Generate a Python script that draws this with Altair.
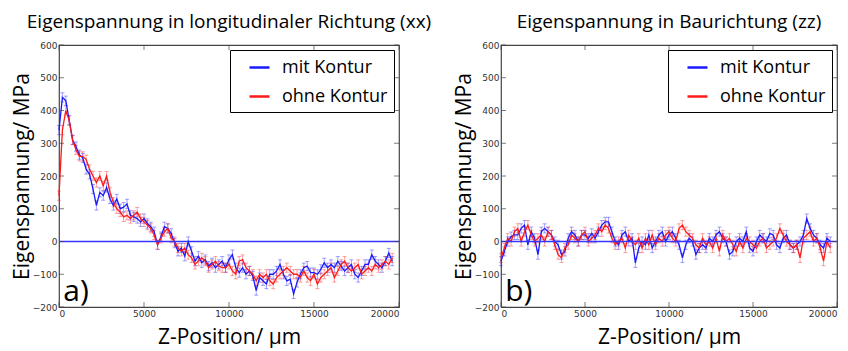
import altair as alt
import pandas as pd

X_POS = list(range(0, 19601, 200))

BLUE_XX = [340, 440, 430, 370, 310, 290, 265, 255, 220, 205,
           160, 110, 150, 140, 165, 130, 110, 130, 100, 105,
           115, 80, 75, 70, 60, 70, 55, 45, 30, -10,
           15, 45, 40, 25, -5, -30, -20, -45, 0, -30,
           -60, -45, -65, -55, -75, -65, -80, -70, -60, -80,
           -55, -40, -80, -95, -80, -100, -90, -105, -150, -110,
           -120, -130, -100, -100, -90, -70, -100, -120, -115, -160,
           -125, -100, -80, -75, -95, -95, -100, -85, -65, -80,
           -70, -80, -60, -75, -90, -80, -70, -100, -110, -90,
           -70, -70, -40, -60, -70, -80, -60, -35, -60]

RED_XX = [140, 340, 400, 370, 310, 280, 260, 260, 250, 220,
          200, 180, 200, 170, 200, 150, 120, 100, 90, 75,
          80, 70, 80, 90, 70, 60, 50, 40, 20, -10,
          10, 30, 40, 10, 0, -20, -30, -20, -40, -50,
          -70, -60, -50, -60, -80, -70, -60, -75, -80, -80,
          -70, -90, -100, -60, -55, -80, -90, -100, -120, -100,
          -110, -100, -120, -130, -110, -100, -90, -80, -90, -100,
          -100, -110, -90, -110, -120, -100, -130, -110, -100, -90,
          -80, -110, -90, -70, -60, -80, -90, -80, -70, -100,
          -90, -80, -90, -70, -80, -70, -60, -70, -50]

BLUE_ZZ = [-60, -30, 0, 15, 20, 20, 40, 50, -10, 30,
           10, -40, 30, 40, 30, 20, 0, -10, -40, -30,
           10, 30, 20, 0, 20, 20, 10, 25, 10, 30,
           50, 60, 60, 30, 0, -10, 20, 30, 0, 10,
           -65, -20, 0, -10, 20, -20, 0, 20, 30, 0,
           20, 30, 10, -10, -50, -10, 10, 0, -40, -20,
           -10, -20, 10, 0, 20, 30, 10, 0, -40, -30,
           0, 10, 0, 30, -20, -30, 0, 20, 10, 0,
           25, 20, -10, -20, 10, 20, -10, -20, -10, 0,
           20, 70, 40, 20, 10, -10, -20, 10, 0]

RED_ZZ = [-50, -20, 10, 0, 30, 40, 0, 30, 50, 20,
          0, 10, 20, 0, 30, 20, -10, -40, -50, -20,
          -10, 20, 10, 0, 20, 30, 0, 10, 20, 40,
          30, 50, 40, 10, -10, 0, 10, -20, 20, 0,
          -10, 10, -20, 10, -10, 20, -10, 10, 0, 20,
          30, 10, 0, 40, 50, 30, 20, 10, -10, -20,
          10, -10, 0, -20, 10, -30, 20, 0, 10, -10,
          -30, 0, -20, 10, 0, -10, -20, 0, 10, -20,
          -10, 0, 10, 40, 20, 0, -10, -20, -10, -50,
          10, 20, 30, 0, 10, -20, -60, 0, -20]

ERR = 14
SERIES = ["mit Kontur", "ohne Kontur"]
COLORS = ["#1a1aff", "#ff1a1a"]
TITLES = ["Eigenspannung in longitudinaler Richtung (xx)", "Eigenspannung in Baurichtung (zz)"]
TAGS = ["a)", "b)"]
X_TICKS = [0, 5000, 10000, 15000, 20000]
Y_TICKS = [-200, -100, 0, 100, 200, 300, 400, 500, 600]
X_MIN, X_MAX = 0, 20000
Y_MIN, Y_MAX = -200, 600

FONT = "Open Sans"


def make_df(blue, red):
    rows = []
    for name, vals in ((SERIES[0], blue), (SERIES[1], red)):
        for x, v in zip(X_POS, vals):
            rows.append({"x": x, "y": v, "lo": v - ERR, "hi": v + ERR, "s": name})
    return pd.DataFrame(rows)


X_SCALE = alt.Scale(domain=[X_MIN, X_MAX], nice=False, zero=False)
Y_SCALE = alt.Scale(domain=[Y_MIN, Y_MAX], nice=False)
Y_AXIS = alt.Axis(values=Y_TICKS, title="Eigenspannung/ MPa", format="d", grid=False)


def make_panel(df, title, tag, width, flush):
    if flush:
        x_axis = alt.Axis(values=X_TICKS, title="Z-Position/ µm", format="d", grid=False,
                          labelFlush=True, labelFlushOffset=0)
    else:
        x_axis = alt.Axis(values=X_TICKS, title="Z-Position/ µm", format="d", grid=False)

    def X(field):
        return alt.X(field, scale=X_SCALE, axis=x_axis)

    def Y(field):
        return alt.Y(field, scale=Y_SCALE, axis=Y_AXIS)

    color = alt.Color("s:N", scale=alt.Scale(domain=SERIES, range=COLORS),
                      legend=alt.Legend(title=None, orient="top-right", offset=5,
                                        strokeColor="black", fillColor="white",
                                        padding=6, symbolOffset=12,
                                        labelExpr="datum.label + '  '",
                                        labelFontSize=18, labelFont=FONT,
                                        symbolType="stroke", symbolSize=400,
                                        symbolStrokeWidth=2.5, symbolOpacity=1,
                                        labelOffset=11, rowPadding=8,
                                        labelColor="black"))
    base = alt.Chart(df)
    err = base.mark_rule(opacity=0.4, strokeWidth=1).encode(
        x=X("x:Q"), y=Y("lo:Q"), y2="hi:Q", color=color)
    cap_lo = base.mark_tick(orient="horizontal", size=4, thickness=1, opacity=0.4).encode(
        x=X("x:Q"), y=Y("lo:Q"), color=color)
    cap_hi = base.mark_tick(orient="horizontal", size=4, thickness=1, opacity=0.4).encode(
        x=X("x:Q"), y=Y("hi:Q"), color=color)
    line = base.mark_line(strokeWidth=1.3).encode(x=X("x:Q"), y=Y("y:Q"), color=color)
    zero = alt.Chart(pd.DataFrame({"z": [0]})).mark_rule(color="#3535ff", strokeWidth=1.4).encode(
        y=Y("z:Q"))
    lab = alt.Chart(pd.DataFrame({"x": [250], "y": [-153], "t": [tag]})).mark_text(
        align="left", baseline="middle", fontSize=30, font=FONT, color="black").encode(
        x=X("x:Q"), y=Y("y:Q"), text="t:N")

    xt = pd.DataFrame({"v": X_TICKS, "lo": [Y_MIN] * len(X_TICKS), "hi": [Y_MAX] * len(X_TICKS)})
    yt = pd.DataFrame({"v": Y_TICKS, "lo": [X_MIN] * len(Y_TICKS), "hi": [X_MAX] * len(Y_TICKS)})
    kw = dict(color="#444", thickness=1, size=5)
    ticks = [
        alt.Chart(xt).mark_tick(orient="vertical", yOffset=-2.5, **kw).encode(x=X("v:Q"), y=Y("lo:Q")),
        alt.Chart(xt).mark_tick(orient="vertical", yOffset=2.5, **kw).encode(x=X("v:Q"), y=Y("hi:Q")),
        alt.Chart(yt).mark_tick(orient="horizontal", xOffset=2.5, **kw).encode(x=X("lo:Q"), y=Y("v:Q")),
        alt.Chart(yt).mark_tick(orient="horizontal", xOffset=-2.5, **kw).encode(x=X("hi:Q"), y=Y("v:Q")),
    ]
    return alt.layer(err, cap_lo, cap_hi, line, zero, lab, *ticks).properties(
        width=width, height=262,
        title=alt.TitleParams(title, fontSize=19, font=FONT, fontWeight="normal",
                              anchor="middle", offset=9, color="black"))


left = make_panel(make_df(BLUE_XX, RED_XX), TITLES[0], TAGS[0], 340, False)
right = make_panel(make_df(BLUE_ZZ, RED_ZZ), TITLES[1], TAGS[1], 336, True)

chart = alt.hconcat(left, right, spacing=20).resolve_legend(color="independent").resolve_scale(
    color="independent").properties(
    padding={"left": 2, "top": 4, "right": 0, "bottom": 0}
).configure_axis(
    labelFont="DejaVu Sans", labelFontSize=9, labelColor="#333", labelPadding=2,
    titleFont=FONT, titleFontSize=21, titleFontWeight="normal", titleColor="black",
    grid=False, domain=False, tickSize=0
).configure_axisY(titlePadding=0).configure_axisX(titlePadding=8).configure_view(
    stroke="#444", strokeWidth=1.2
)

chart.save("out.html", embed_options={"renderer": "svg", "actions": False})
